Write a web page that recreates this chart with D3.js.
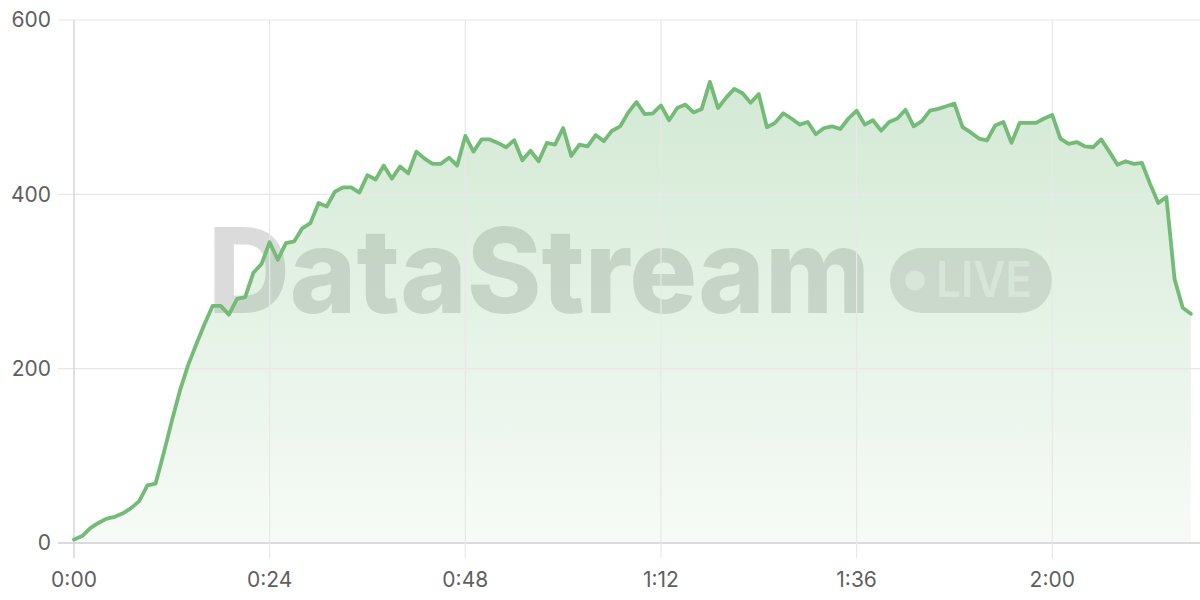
<!DOCTYPE html>
<html>
<head>
<meta charset="utf-8">
<script src="https://cdn.jsdelivr.net/npm/d3@7/dist/d3.min.js"></script>
<style>
  html, body { margin: 0; padding: 0; background: #fff; }
  svg { display: block; }
</style>
</head>
<body>
<svg id="chart" width="1200" height="600"></svg>
<script>
// minutes since start
const minutes = d3.range(0, 138);
// values per minute
const values = [
  4, 8, 17, 23, 28, 30, 34, 40, 48, 66,
  68, 103, 140, 175, 204, 228, 251, 272, 272, 262,
  280, 282, 310, 320, 345, 325, 344, 346, 361, 367,
  390, 386, 403, 408, 408, 402, 422, 417, 433, 418,
  432, 424, 449, 441, 435, 435, 442, 433, 467, 449,
  463, 463, 459, 454, 462, 439, 450, 438, 459, 457,
  476, 444, 457, 455, 468, 461, 473, 478, 494, 506,
  492, 493, 502, 485, 499, 503, 494, 498, 529, 499,
  511, 521, 516, 505, 515, 477, 482, 493, 487, 480,
  483, 469, 476, 478, 475, 487, 496, 480, 485, 473,
  483, 487, 497, 478, 484, 496, 498, 501, 504, 477,
  471, 464, 462, 479, 483, 459, 482, 482, 482, 487,
  491, 464, 458, 460, 455, 454, 463, 449, 434, 438,
  435, 436, 412, 390, 397, 303, 270, 263
];
const xTicks = [0, 24, 48, 72, 96, 120];
const yTicks = [0, 200, 400, 600];
const watermarkText = "DataStream";
const badgeText = "LIVE";

const data = minutes.map((m, i) => ({ m, v: values[i] }));
const fmt = m => `${Math.floor(m / 60)}:${String(m % 60).padStart(2, "0")}`;

const svg = d3.select("#chart");
const x = d3.scaleLinear().domain([0, 138]).range([74, 1199]);
const y = d3.scaleLinear().domain([0, 600]).range([543, 20]);
const green = "#74bb78";
const font = "Inter, 'Noto Sans', 'DejaVu Sans', sans-serif";

const defs = svg.append("defs");
const grad = defs.append("linearGradient").attr("id", "areaGrad")
  .attr("x1", 0).attr("y1", 0).attr("x2", 0).attr("y2", 1);
grad.append("stop").attr("offset", "0%").attr("stop-color", "#74bb78").attr("stop-opacity", 0.32);
grad.append("stop").attr("offset", "100%").attr("stop-color", "#74bb78").attr("stop-opacity", 0.06);

// watermark
const wm = svg.append("g").attr("class", "watermark");
wm.append("text")
  .attr("x", 208).attr("y", 313)
  .attr("font-family", font).attr("font-weight", 800)
  .attr("font-size", 118)
  .attr("textLength", 662).attr("lengthAdjust", "spacingAndGlyphs")
  .attr("fill", "#000").attr("fill-opacity", 0.14)
  .text(watermarkText);
wm.append("rect")
  .attr("x", 890).attr("y", 248).attr("width", 162).attr("height", 65)
  .attr("rx", 32).attr("fill", "#000").attr("fill-opacity", 0.12);
wm.append("circle").attr("cx", 915).attr("cy", 280.5).attr("r", 10)
  .attr("fill", "#fff").attr("fill-opacity", 0.55);
wm.append("text")
  .attr("x", 936).attr("y", 297)
  .attr("font-family", font).attr("font-weight", 600)
  .attr("font-size", 50)
  .attr("textLength", 96).attr("lengthAdjust", "spacingAndGlyphs")
  .attr("fill", "#fff").attr("fill-opacity", 0.55)
  .text(badgeText);

// area
svg.append("path").datum(data)
  .attr("fill", "url(#areaGrad)")
  .attr("d", d3.area().x(d => x(d.m)).y0(y(0)).y1(d => y(d.v)));

// grid
const gy = svg.append("g");
gy.selectAll("line").data(yTicks).join("line")
  .attr("x1", 58).attr("x2", 1200)
  .attr("y1", d => y(d)).attr("y2", d => y(d))
  .attr("stroke", d => d === 0 ? "#cfcfcf" : "#e8e8e8").attr("stroke-width", d => d === 0 ? 1.5 : 1.2);
const gx = svg.append("g");
gx.selectAll("line").data(xTicks).join("line")
  .attr("x1", d => x(d)).attr("x2", d => x(d))
  .attr("y1", 20).attr("y2", 558)
  .attr("stroke", d => d === 0 ? "#d6d6d6" : "#e8e8e8").attr("stroke-width", d => d === 0 ? 1.5 : 1.2);

// labels
svg.append("g").selectAll("text").data(yTicks).join("text")
  .attr("x", 51).attr("y", d => y(d)).attr("dy", "0.35em")
  .attr("text-anchor", "end")
  .attr("font-family", font).attr("font-size", 21).attr("fill", "#5f5f5f")
  .text(d => d);
svg.append("g").selectAll("text").data(xTicks).join("text")
  .attr("x", d => x(d)).attr("y", 580).attr("dy", "0.35em")
  .attr("text-anchor", "middle")
  .attr("font-family", font).attr("font-size", 21).attr("fill", "#5f5f5f")
  .text(d => fmt(d));

// line
svg.append("path").datum(data)
  .attr("fill", "none").attr("stroke", green).attr("stroke-width", 3.8)
  .attr("stroke-linejoin", "round").attr("stroke-linecap", "round")
  .attr("d", d3.line().x(d => x(d.m)).y(d => y(d.v)));
</script>
</body>
</html>
